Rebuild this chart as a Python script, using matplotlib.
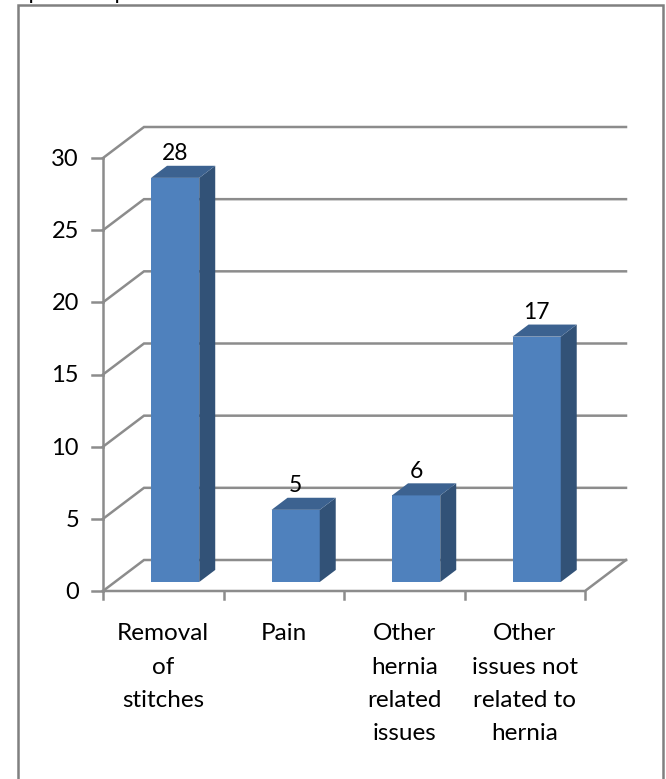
import numpy as np
import matplotlib
matplotlib.use("Agg")
import matplotlib.pyplot as plt
from matplotlib.patches import Polygon, Rectangle

categories = ["Removal\nof\nstitches", "Pain", "Other\nhernia\nrelated\nissues",
              "Other\nissues not\nrelated to\nhernia"]
values = [28, 5, 6, 17]
yticks = [0, 5, 10, 15, 20, 25, 30]

W, H = 666, 779
GRID = "#8c8c8c"
FRONT = "#4f81bd"
TOP = "#3c6290"
SIDE = "#325277"

plt.rcParams["font.family"] = ["Lato", "DejaVu Sans"]

fig = plt.figure(figsize=(W / 100, H / 100), dpi=100)
fig.patch.set_facecolor("white")

# outer frame
fig.add_artist(Rectangle((18 / W, -0.02), 645 / W, 1.02 - 5 / H, transform=fig.transFigure,
                         fill=False, ec="#808080", lw=1.8))
fig.text(16 / W, 1 + 1 / H, "operative period", fontsize=16, ha="left", va="baseline")

# axes cover the front plane of the 3d box
ax = fig.add_axes([103 / W, 1 - 591 / H, 482 / W, 433 / H])
ax.set_xlim(0, 4)
ax.set_ylim(0, 30)
ax.axis("off")

DX = 41 / 482 * 4    # depth shift in category units
DY = 31 / 433 * 30   # depth shift in value units


def proj(x, y, z):
    return x + DX * z, y + DY * z


# walls and gridlines
for t in yticks:
    x0, y0 = proj(0, t, 0)
    x1, y1 = proj(0, t, 1)
    ax.plot([x0, x1, 4 + DX], [y0, y1, y1], color=GRID, lw=1.8, clip_on=False, solid_joinstyle="miter")
    ax.plot([-11 / 120.5, 0], [t, t], color=GRID, lw=1.8, clip_on=False)
ax.plot([0, 0], [0, 30], color=GRID, lw=1.8, clip_on=False)

# floor
ax.plot([0, 4, 4 + DX], [0, 0, DY], color=GRID, lw=1.8, clip_on=False)
for i in range(5):
    ax.plot([i, i], [0, -8 / 14.43], color=GRID, lw=1.8, clip_on=False)

# bars
BW = 0.4
Z0, Z1 = 0.29, 0.68
for i, v in enumerate(values):
    xl = i + 0.5 - BW / 2
    xr = xl + BW
    p = [proj(xl, 0, Z0), proj(xr, 0, Z0), proj(xr, v, Z0), proj(xl, v, Z0)]
    ax.add_patch(Polygon(p, fc=FRONT, ec="none", zorder=3, clip_on=False))
    s = [proj(xr, 0, Z0), proj(xr, 0, Z1), proj(xr, v, Z1), proj(xr, v, Z0)]
    ax.add_patch(Polygon(s, fc=SIDE, ec="none", zorder=3, clip_on=False))
    t = [proj(xl, v, Z0), proj(xr, v, Z0), proj(xr, v, Z1), proj(xl, v, Z1)]
    ax.add_patch(Polygon(t, fc=TOP, ec="none", zorder=3, clip_on=False))
    lx, ly = proj(i + 0.5, v, Z0)
    ax.text(lx, ly + DY * (Z1 - Z0) + 0.1, str(v), ha="center", va="bottom", fontsize=16.5, zorder=4)

for t in yticks:
    ax.text(-24 / 120.5, t - 0.1, str(t), ha="right", va="center", fontsize=17)

for i, c in enumerate(categories):
    ax.text(i + 0.5, -2.25, c, ha="center", va="top", fontsize=17.5, linespacing=1.72)

fig.savefig("out.png", dpi=100)
